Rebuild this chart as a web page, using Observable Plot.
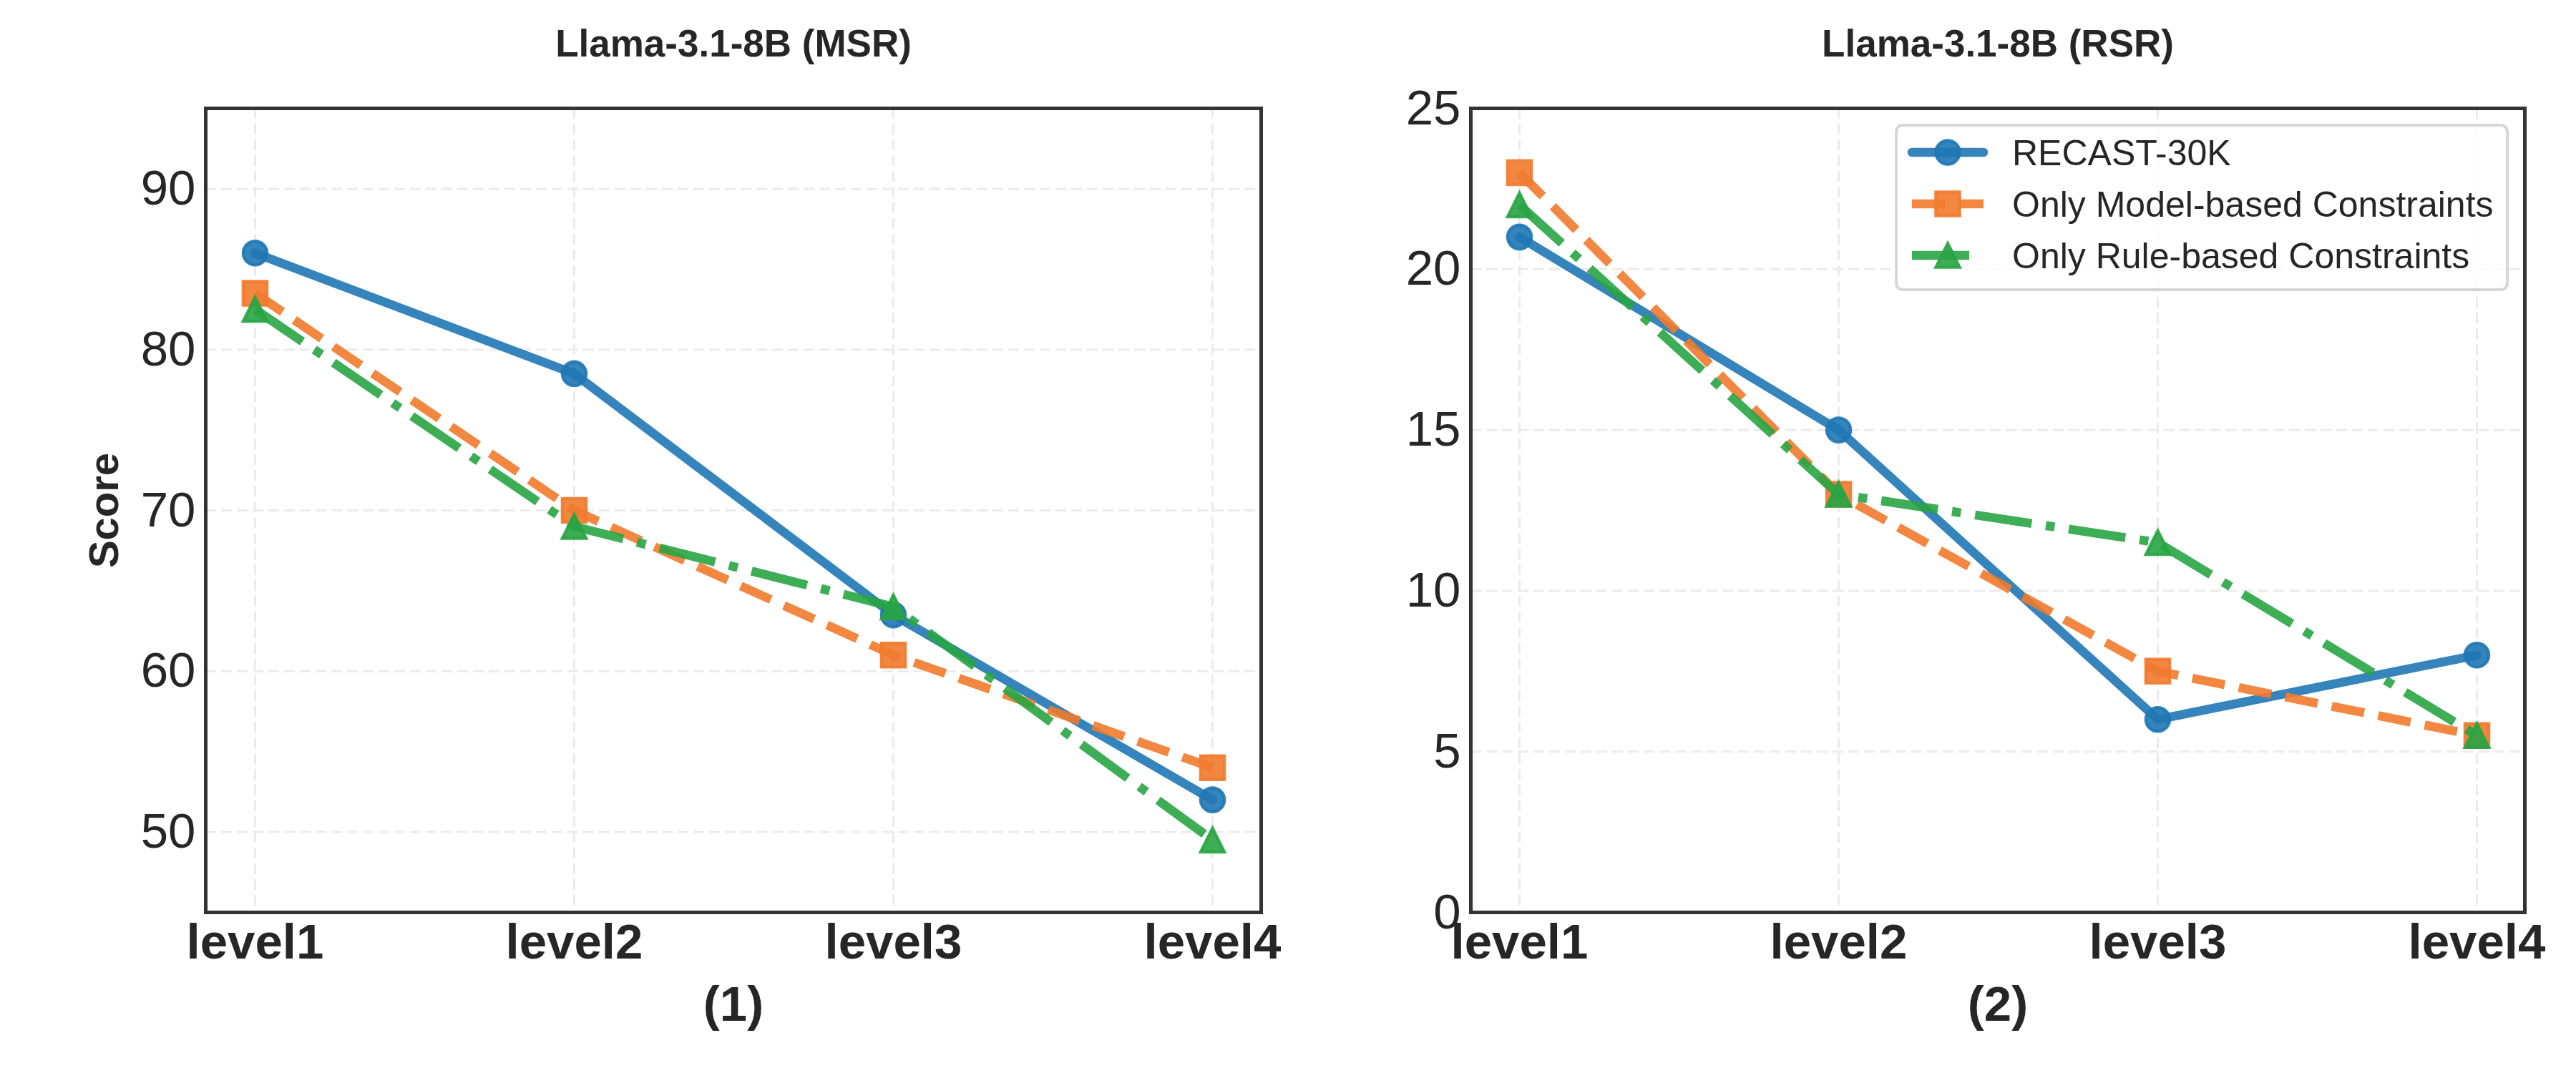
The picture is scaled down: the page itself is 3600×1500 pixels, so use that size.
<!DOCTYPE html>
<html>
<head>
<meta charset="utf-8">
<script src="https://cdn.jsdelivr.net/npm/d3@7"></script>
<script src="https://cdn.jsdelivr.net/npm/@observablehq/plot@0.6"></script>
<style>
  html, body { margin: 0; padding: 0; background: #ffffff; }
  #page { position: relative; width: 3600px; height: 1500px; display: flex; font-family: "Liberation Sans", Arial, sans-serif; }
  #page > svg { display: block; flex: none; }
  #legend { position: absolute; left: 0; top: 0; pointer-events: none; }
</style>
</head>
<body>
<div id="page"></div>
<script>
// ---------------- data ----------------
const levels = ["level1", "level2", "level3", "level4"];
const seriesNames = ["RECAST-30K", "Only Model-based Constraints", "Only Rule-based Constraints"];

const msrRecast = [86, 78.5, 63.5, 52];
const msrModel  = [83.5, 70, 61, 54];
const msrRule   = [82.5, 69, 64, 49.5];

const rsrRecast = [21, 15, 6, 8];
const rsrModel  = [23, 13, 7.5, 5.5];
const rsrRule   = [22, 13, 11.5, 5.5];

const msrTicks = [50, 60, 70, 80, 90];
const rsrTicks = [0, 5, 10, 15, 20, 25];

const panelTitles = ["Llama-3.1-8B (MSR)", "Llama-3.1-8B (RSR)"];
const panelLabels = ["(1)", "(2)"];
const yLabelText = "Score";

// ---------------- styles ----------------
const TEXT = "#262626";
const LW = 12.5;
// matplotlib-like markers (center at bbox center)
const mplSquare = { draw(ctx, size) { const s = Math.sqrt(size / Math.PI); ctx.rect(-s, -s, 2 * s, 2 * s); } };
const mplTriangle = { draw(ctx, size) { const s = Math.sqrt(size / Math.PI); ctx.moveTo(0, -s); ctx.lineTo(s, s); ctx.lineTo(-s, s); ctx.closePath(); } };
const mplCircle = { draw(ctx, size) { const s = Math.sqrt(size / Math.PI); ctx.moveTo(s, 0); ctx.arc(0, 0, s, 0, 2 * Math.PI); ctx.closePath(); } };

const styles = [
  { color: "#1f77b4", dash: null, cap: "round", symbol: mplCircle },
  { color: "#f17a2c", dash: `${3.7 * LW},${1.6 * LW}`, cap: "butt", symbol: mplSquare },
  { color: "#28a444", dash: `${6.4 * LW},${1.6 * LW},${1 * LW},${1.6 * LW}`, cap: "butt", symbol: mplTriangle }
];
const ALPHA = 0.9;
const MR = 16.7;   // marker half-size
const MEW = 4.2;   // marker edge width

function rows(values) { return levels.map((level, i) => ({ level, value: values[i] })); }

function panel({ title, xLabel, yLabel, yDomain, yTicks, seriesValues, marginLeft, marginRight }) {
  const marks = [
    Plot.gridX(levels, { x: d => d, stroke: "#ebebeb", strokeOpacity: 1, strokeWidth: 3, strokeDasharray: "15,7" }),
    Plot.gridY(yTicks, { y: d => d, stroke: "#ebebeb", strokeOpacity: 1, strokeWidth: 3, strokeDasharray: "15,7" }),
    Plot.axisX({ tickSize: 0, tickPadding: 15, fontSize: 69, fontWeight: "bold", fill: TEXT, label: null }),
    Plot.axisY(yTicks, { tickSize: 0, tickPadding: 14, fontSize: 69, fill: TEXT, label: null })
  ];
  seriesValues.forEach((vals, i) => {
    const st = styles[i];
    const data = rows(vals);
    marks.push(Plot.line(data, {
      x: "level", y: "value", stroke: st.color, strokeOpacity: ALPHA, strokeWidth: LW,
      strokeDasharray: st.dash ?? undefined, strokeLinecap: st.cap, strokeLinejoin: "round"
    }));
    marks.push(Plot.dot(data, {
      x: "level", y: "value", symbol: st.symbol, r: MR,
      fill: st.color, fillOpacity: ALPHA, stroke: st.color, strokeOpacity: ALPHA, strokeWidth: MEW
    }));
  });
  marks.push(Plot.frame({ stroke: "#333333", strokeWidth: 5 }));
  marks.push(Plot.text([title], { frameAnchor: "top", text: d => d, dy: -89, textAnchor: "middle", lineAnchor: "middle", fontSize: 53, fontWeight: "bold", fill: TEXT }));
  marks.push(Plot.text([xLabel], { frameAnchor: "bottom", text: d => d, dy: 129, textAnchor: "middle", lineAnchor: "middle", fontSize: 69, fontWeight: "bold", fill: TEXT }));
  if (yLabel) {
    marks.push(Plot.text([yLabel], { frameAnchor: "left", text: d => d, dx: 146 - marginLeft, rotate: -90, textAnchor: "middle", lineAnchor: "middle", fontSize: 58, fontWeight: "bold", fill: TEXT }));
  }
  return Plot.plot({
    width: 1800,
    height: 1500,
    marginLeft, marginRight,
    marginTop: 151,
    marginBottom: 225,
    style: { fontFamily: "'Liberation Sans', Arial, sans-serif", background: "#ffffff", overflow: "visible", color: TEXT },
    x: { type: "point", domain: levels, padding: 0.15 },
    y: { domain: yDomain },
    marks
  });
}

const page = document.getElementById("page");
page.appendChild(panel({
  title: panelTitles[0], xLabel: panelLabels[0], yLabel: yLabelText,
  yDomain: [45, 95], yTicks: msrTicks,
  seriesValues: [msrRecast, msrModel, msrRule],
  marginLeft: 287, marginRight: 38
}));
page.appendChild(panel({
  title: panelTitles[1], xLabel: panelLabels[1], yLabel: null,
  yDomain: [0, 25], yTicks: rsrTicks,
  seriesValues: [rsrRecast, rsrModel, rsrRule],
  marginLeft: 255, marginRight: 72
}));

// ---------------- legend (inside right panel, upper right) ----------------
const ns = "http://www.w3.org/2000/svg";
const leg = document.createElementNS(ns, "svg");
leg.setAttribute("id", "legend");
leg.setAttribute("width", 3600);
leg.setAttribute("height", 1500);
function el(tag, attrs, parent) {
  const e = document.createElementNS(ns, tag);
  for (const k in attrs) e.setAttribute(k, attrs[k]);
  (parent || leg).appendChild(e);
  return e;
}
const box = { x: 2650, y: 175, w: 854, h: 230 };
el("rect", { x: box.x, y: box.y, width: box.w, height: box.h, rx: 9, ry: 9, fill: "#ffffff", "fill-opacity": 0.8, stroke: "#d6d6d6", "stroke-width": 4 });
const rowY = [213, 285, 357];
const hx0 = 2672, hx1 = 2772, hxm = 2722, tx = 2812;
seriesNames.forEach((name, i) => {
  const st = styles[i];
  const y = rowY[i];
  const line = el("line", { x1: hx0, y1: y, x2: hx1, y2: y, stroke: st.color, "stroke-opacity": ALPHA, "stroke-width": LW, "stroke-linecap": st.cap });
  if (st.dash) line.setAttribute("stroke-dasharray", st.dash);
  const p = d3.path();
  st.symbol.draw(p, Math.PI * MR * MR);
  el("path", { d: p.toString(), transform: `translate(${hxm},${y})`, fill: st.color, "fill-opacity": ALPHA, stroke: st.color, "stroke-opacity": ALPHA, "stroke-width": MEW });
  const t = el("text", { x: tx, y: y + 18, fill: TEXT, "font-size": 50, "font-family": "'Liberation Sans', Arial, sans-serif" });
  t.textContent = name;
});
page.appendChild(leg);
</script>
</body>
</html>
